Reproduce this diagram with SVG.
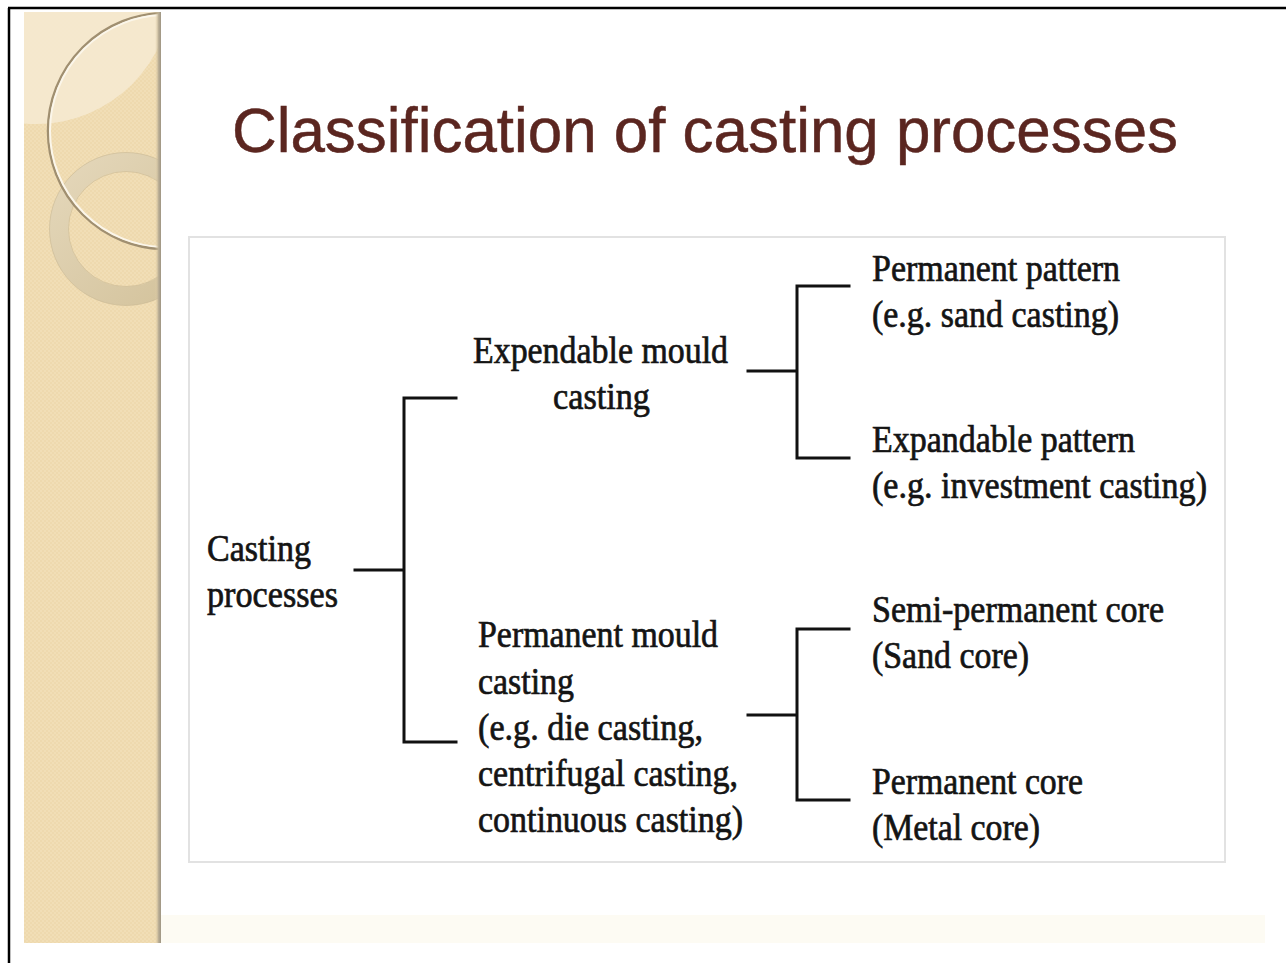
<svg xmlns="http://www.w3.org/2000/svg" width="1286" height="963" viewBox="0 0 1286 963">
  <defs>
    <pattern id="weave" width="4" height="4" patternUnits="userSpaceOnUse">
      <rect width="4" height="4" fill="#f1deb6"/>
      <rect width="2" height="2" fill="#eed9ae"/>
      <rect x="2" y="2" width="2" height="2" fill="#eed9ae"/>
    </pattern>
    <linearGradient id="edgeShade" x1="0" y1="0" x2="1" y2="0">
      <stop offset="0" stop-color="#e6d3aa" stop-opacity="0"/>
      <stop offset="0.6" stop-color="#b9ad94"/>
      <stop offset="1" stop-color="#9e9584"/>
    </linearGradient>
    <linearGradient id="ringFill" x1="0" y1="0" x2="1" y2="1">
      <stop offset="0" stop-color="#e4d7ba"/>
      <stop offset="1" stop-color="#d3c29b"/>
    </linearGradient>
    <clipPath id="panelClip">
      <rect x="24" y="12" width="137" height="931"/>
    </clipPath>
    <style>
      .title { font-family: "Liberation Sans", Arial, sans-serif; font-size: 63px; fill: #5b2620; stroke: #5b2620; stroke-width: 0.5; }
      .lbl { font-family: "Liberation Serif", "Times New Roman", serif; font-size: 38px; fill: #141414; stroke: #141414; stroke-width: 0.7; }
      .wire { stroke: #111; stroke-width: 3; fill: none; stroke-linecap: square; }
    </style>
  </defs>

  <!-- page background and frame -->
  <rect width="1286" height="963" fill="#ffffff"/>
  <rect x="161" y="915" width="1104" height="28" fill="#fdfbf3"/>
  <line x1="8" y1="8" x2="1286" y2="8" stroke="#000" stroke-width="2.5"/>
  <line x1="9" y1="8" x2="9" y2="963" stroke="#000" stroke-width="2.5"/>

  <!-- decorative side panel -->
  <g id="side-panel">
    <rect x="24" y="12" width="137" height="931" fill="url(#weave)"/>
    <g clip-path="url(#panelClip)">
      <circle cx="36" cy="-12" r="136" fill="#f6ead2" opacity="0.85"/>
      <circle cx="126" cy="229" r="67" fill="none" stroke="url(#ringFill)" stroke-width="19"/>
      <circle cx="126" cy="229" r="76.5" fill="none" stroke="#c9b994" stroke-width="1" opacity="0.6"/>
      <circle cx="126" cy="229" r="57.5" fill="none" stroke="#c9b994" stroke-width="1" opacity="0.6"/>
      <circle cx="166" cy="131" r="118" fill="none" stroke="#a08f70" stroke-width="2.5"/>
      <circle cx="166" cy="131" r="116" fill="none" stroke="#fbf6ea" stroke-width="2"/>
    </g>
    <rect x="155" y="12" width="6" height="931" fill="url(#edgeShade)"/>
  </g>

  <!-- heading -->
  <text id="title" class="title" x="232" y="152" textLength="946" lengthAdjust="spacingAndGlyphs">Classification of casting processes</text>

  <!-- chart frame -->
  <rect x="189" y="237" width="1036" height="625" fill="#ffffff" stroke="#e2e2e2" stroke-width="2"/>

  <!-- tree connectors -->
  <g id="connectors" class="wire">
    <path d="M355 570 H404 M456 398 H404 V742 H456"/>
    <path d="M748 371 H797 M849 286 H797 V458 H849"/>
    <path d="M748 715 H797 M849 629 H797 V800 H849"/>
  </g>

  <g id="node-root">
    <text class="lbl" x="207" y="561" textLength="104" lengthAdjust="spacingAndGlyphs">Casting</text>
    <text class="lbl" x="207" y="607" textLength="131" lengthAdjust="spacingAndGlyphs">processes</text>
  </g>

  <g id="node-expendable">
    <text class="lbl" x="473" y="363" textLength="255" lengthAdjust="spacingAndGlyphs">Expendable mould</text>
    <text class="lbl" x="553" y="409" textLength="97" lengthAdjust="spacingAndGlyphs">casting</text>
  </g>

  <g id="node-permanent">
    <text class="lbl" x="478" y="647" textLength="240" lengthAdjust="spacingAndGlyphs">Permanent mould</text>
    <text class="lbl" x="478" y="694" textLength="96" lengthAdjust="spacingAndGlyphs">casting</text>
    <text class="lbl" x="478" y="740" textLength="225" lengthAdjust="spacingAndGlyphs">(e.g. die casting,</text>
    <text class="lbl" x="478" y="786" textLength="260" lengthAdjust="spacingAndGlyphs">centrifugal casting,</text>
    <text class="lbl" x="478" y="832" textLength="265" lengthAdjust="spacingAndGlyphs">continuous casting)</text>
  </g>

  <g id="node-permanent-pattern">
    <text class="lbl" x="872" y="281" textLength="248" lengthAdjust="spacingAndGlyphs">Permanent pattern</text>
    <text class="lbl" x="872" y="327" textLength="247" lengthAdjust="spacingAndGlyphs">(e.g. sand casting)</text>
  </g>

  <g id="node-expandable-pattern">
    <text class="lbl" x="872" y="452" textLength="263" lengthAdjust="spacingAndGlyphs">Expandable pattern</text>
    <text class="lbl" x="872" y="498" textLength="335" lengthAdjust="spacingAndGlyphs">(e.g. investment casting)</text>
  </g>

  <g id="node-semi-permanent-core">
    <text class="lbl" x="872" y="622" textLength="292" lengthAdjust="spacingAndGlyphs">Semi-permanent core</text>
    <text class="lbl" x="872" y="668" textLength="157" lengthAdjust="spacingAndGlyphs">(Sand core)</text>
  </g>

  <g id="node-permanent-core">
    <text class="lbl" x="872" y="794" textLength="211" lengthAdjust="spacingAndGlyphs">Permanent core</text>
    <text class="lbl" x="872" y="840" textLength="168" lengthAdjust="spacingAndGlyphs">(Metal core)</text>
  </g>
</svg>
